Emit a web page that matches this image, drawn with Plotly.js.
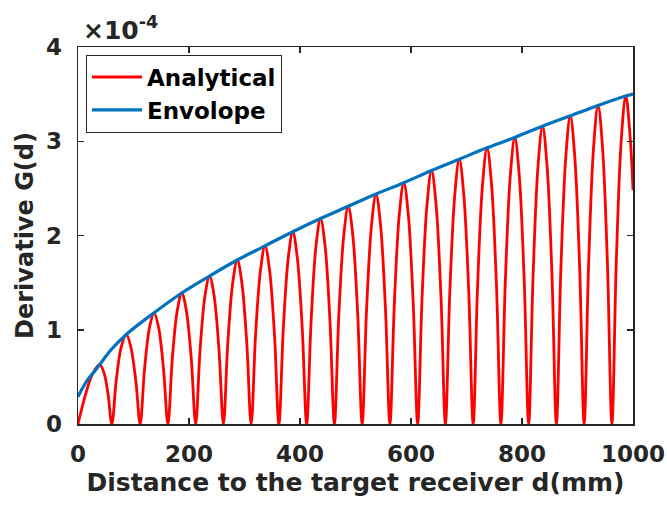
<!DOCTYPE html>
<html>
<head>
<meta charset="utf-8">
<script src="https://cdn.plot.ly/plotly-3.0.1.min.js"></script>
<style>html,body{margin:0;padding:0;background:#fff;}#chart{width:667px;height:507px;}</style>
</head>
<body>
<div id="chart"></div>
<script>
// Values of G(d) are in units of 1e-4 (axis multiplier shown as ×10^-4)
var analyticalX = [
  0, 13, 26, 39, 47, 54,
  61, 69, 78, 87, 95, 104,
  112, 120, 129, 137, 145, 154,
  162, 170, 179, 187, 195, 204,
  212, 220, 229, 237, 245, 254,
  262, 270, 279, 287, 295, 304,
  312, 320, 329, 337, 345, 354,
  362, 370, 379, 387, 395, 404,
  412, 420, 429, 437, 445, 454,
  462, 470, 479, 487, 495, 504,
  512, 520, 529, 537, 545, 554,
  562, 570, 579, 587, 595, 604,
  612, 620, 629, 637, 645, 654,
  662, 670, 679, 687, 695, 704,
  712, 720, 729, 737, 745, 754,
  762, 770, 779, 787, 795, 804,
  812, 820, 829, 837, 845, 854,
  862, 870, 879, 887, 895, 904,
  912, 920, 929, 937, 945, 954,
  962, 970, 979, 987, 995, 1000
];
var analyticalY = [
  0, 0.30, 0.53, 0.63, 0.54, 0.32,
  0, 0.47, 0.82, 0.95, 0.82, 0.47,
  0, 0.59, 1.03, 1.18, 1.03, 0.59,
  0, 0.70, 1.21, 1.39, 1.21, 0.70,
  0, 0.79, 1.37, 1.57, 1.37, 0.79,
  0, 0.87, 1.51, 1.74, 1.51, 0.87,
  0, 0.95, 1.64, 1.89, 1.64, 0.95,
  0, 1.02, 1.77, 2.04, 1.77, 1.02,
  0, 1.09, 1.90, 2.18, 1.90, 1.09,
  0, 1.16, 2.01, 2.31, 2.01, 1.16,
  0, 1.22, 2.12, 2.44, 2.12, 1.22,
  0, 1.28, 2.23, 2.56, 2.23, 1.28,
  0, 1.35, 2.34, 2.69, 2.34, 1.35,
  0, 1.41, 2.44, 2.81, 2.44, 1.41,
  0, 1.47, 2.55, 2.93, 2.55, 1.47,
  0, 1.52, 2.64, 3.04, 2.64, 1.52,
  0, 1.58, 2.75, 3.16, 2.75, 1.58,
  0, 1.64, 2.84, 3.27, 2.84, 1.64,
  0, 1.69, 2.94, 3.38, 2.94, 1.69,
  0, 1.74, 3.03, 3.48, 3.03, 2.48
];
var envelopeX = [0, 10, 20, 30, 39, 60, 87, 137, 187, 237, 287, 337, 387, 437, 487, 537, 587, 637, 687, 737, 787, 837, 887, 937, 987, 1000];
var envelopeY = [0.29, 0.40, 0.49, 0.56, 0.63, 0.79, 0.95, 1.18, 1.39, 1.57, 1.74, 1.89, 2.04, 2.18, 2.31, 2.44, 2.56, 2.69, 2.81, 2.93, 3.04, 3.16, 3.27, 3.38, 3.48, 3.50];
var seriesNames = ['Analytical', 'Envolope'];
var xTicks = [0, 200, 400, 600, 800, 1000];
var yTicks = [0, 1, 2, 3, 4];

var FONT = 'DejaVu Sans, Liberation Sans, sans-serif';
var TXT = '#262626';

var traces = [
  {x: analyticalX, y: analyticalY, name: seriesNames[0], type: 'scatter', mode: 'lines',
   line: {color: '#FF0000', width: 2.8, shape: 'spline', smoothing: 1}},
  {x: envelopeX, y: envelopeY, name: seriesNames[1], type: 'scatter', mode: 'lines',
   line: {color: '#0072BD', width: 3.2, shape: 'spline', smoothing: 1}}
];

var axisCommon = {
  showgrid: false, zeroline: false, showline: true, linecolor: TXT, linewidth: 1.5,
  mirror: 'ticks', ticks: 'inside', ticklen: 6, tickwidth: 1.5, tickcolor: TXT,
  tickfont: {family: FONT, size: 23, color: TXT, weight: 'bold'}
};

var layout = {
  width: 667, height: 507,
  margin: {l: 78, r: 34, t: 47, b: 83, pad: 0},
  paper_bgcolor: '#fff', plot_bgcolor: '#fff',
  showlegend: true,
  xaxis: Object.assign({}, axisCommon, {
    range: [0, 1000], tickvals: xTicks, ticktext: xTicks.map(String), ticklabelstandoff: 9,
    title: {text: 'Distance to the target receiver d(mm)', standoff: 7,
            font: {family: FONT, size: 25, color: TXT, weight: 'bold'}}
  }),
  yaxis: Object.assign({}, axisCommon, {
    range: [0, 4], tickvals: yTicks, ticktext: yTicks.map(String), ticklabelstandoff: 10,
    title: {text: 'Derivative G(d)', standoff: 5,
            font: {family: FONT, size: 24, color: TXT, weight: 'bold'}}
  }),
  legend: {
    x: 0.0144, y: 0.98, xanchor: 'left', yanchor: 'top',
    bgcolor: '#fff', bordercolor: TXT, borderwidth: 1,
    font: {family: FONT, size: 23, color: '#000', weight: 'bold'},
    itemwidth: 50
  },
  annotations: [{
    xref: 'paper', yref: 'paper', x: 0.006, y: 1.0, xanchor: 'left', yanchor: 'bottom',
    showarrow: false, text: '×10<sup>-4</sup>',
    font: {family: FONT, size: 25, color: TXT, weight: 'bold'}
  }]
};

Plotly.newPlot('chart', traces, layout, {displayModeBar: false, staticPlot: true});
</script>
</body>
</html>
